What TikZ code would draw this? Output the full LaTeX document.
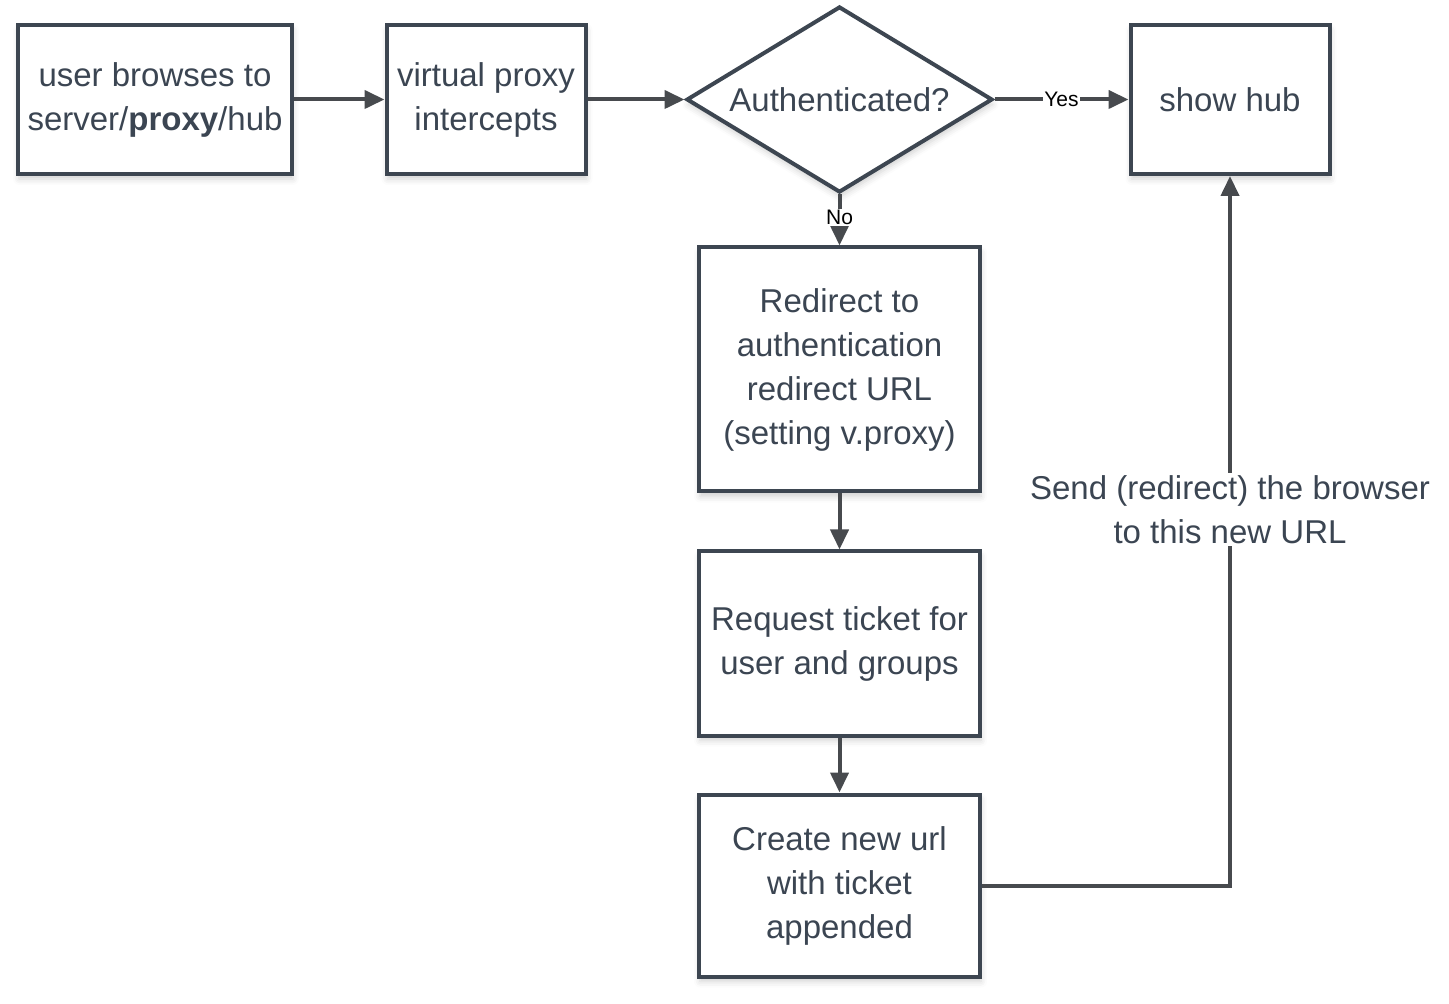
\documentclass[tikz,border=0pt]{standalone}
\usepackage{fontspec}
\setmainfont{Liberation Sans}
\usepackage{tikz}
\usetikzlibrary{positioning, arrows.meta, shapes.geometric, shadows.blur}
\definecolor{boxline}{HTML}{3D4651}
\definecolor{boxtext}{HTML}{3B4552}
\definecolor{arrowgray}{HTML}{474A4E}
\tikzset{
  stepbox/.style={
    draw=boxline, line width=2pt, fill=white,
    text=boxtext, align=center, inner sep=2pt,
    font=\fontsize{16.5}{22}\selectfont,
    blur shadow={shadow xshift=0.5pt, shadow yshift=-2.5pt,
      shadow blur radius=3pt, shadow opacity=18}
  },
  decision/.style={
    stepbox, diamond, inner sep=0pt, aspect=1.68,
    minimum width=153pt, minimum height=93pt
  },
  flow/.style={-{Triangle[length=10pt,width=9pt]}, line width=2pt, draw=arrowgray},
  branchlabel/.style={font=\fontsize{10.5}{12}\selectfont, text=black,
    fill=white, inner sep=0.5pt},
}

\begin{document}
\begin{tikzpicture}
  \useasboundingbox (0,0) rectangle (724.5pt,-502pt);

  \node[stepbox, minimum width=137pt, minimum height=74.5pt]
    (browse) at (77.5pt,-49.75pt) {user browses to\\server/\textbf{proxy}/hub};
  \node[stepbox, minimum width=99.5pt, minimum height=74.5pt,
        right=45.25pt of browse] (vproxy) {virtual proxy\\intercepts};
  \node[decision, right=48.5pt of vproxy] (auth) {Authenticated?};
  \node[stepbox, minimum width=99.5pt, minimum height=74.5pt,
        right=67pt of auth] (hub) {show hub};

  \node[stepbox, minimum width=140.5pt, minimum height=122pt,
        below=25.5pt of auth] (redirect) {%
    Redirect to\\authentication\\redirect URL\\(setting v.proxy)};
  \node[stepbox, minimum width=140.5pt, minimum height=92pt,
        below=28pt of redirect] (ticket) {%
    Request ticket for\\user and groups};
  \node[stepbox, minimum width=140.5pt, minimum height=91pt,
        below=27.5pt of ticket] (newurl) {%
    Create new url\\with ticket\\appended};

  \draw[flow] (browse) -- (vproxy);
  \draw[flow] (vproxy) -- (auth);
  \draw[flow] (auth) -- node[branchlabel] {Yes} (hub);
  \draw[flow] (auth) -- node[branchlabel, pos=0.45] {No} (redirect);
  \draw[flow] (redirect) -- (ticket);
  \draw[flow] (ticket) -- (newurl);
  \draw[flow] (newurl) -| node[pos=0.765, fill=white, text=boxtext,
      align=center, inner sep=1pt,
      font=\fontsize{16.5}{22}\selectfont]
    {Send (redirect) the browser\\to this new URL} (hub);
\end{tikzpicture}
\end{document}
